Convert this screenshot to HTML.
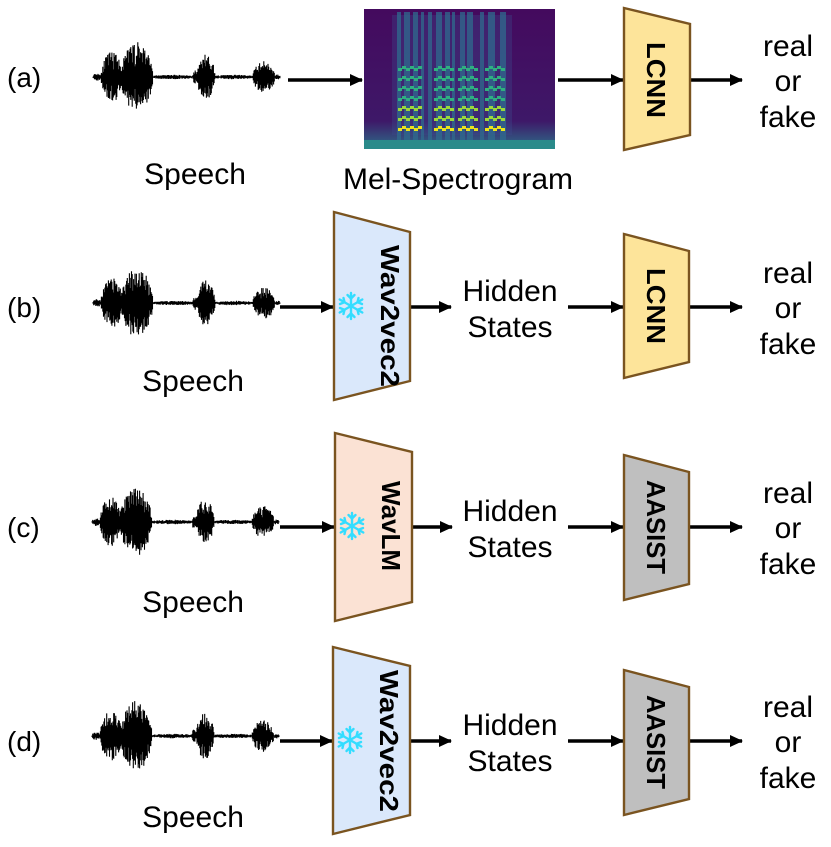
<!DOCTYPE html>
<html><head><meta charset="utf-8">
<style>
html,body{margin:0;padding:0;background:#fff;}
svg{display:block;}
text{font-family:"Liberation Sans",sans-serif;fill:#000;}
</style></head>
<body>
<svg id="s" width="831" height="847" viewBox="0 0 831 847" xmlns="http://www.w3.org/2000/svg">
<defs>
<marker id="ah" markerWidth="13" markerHeight="12" refX="12" refY="6" orient="auto" markerUnits="userSpaceOnUse">
<path d="M0,0 L13,6 L0,12 z" fill="#000"/>
</marker>
<linearGradient id="specbg" x1="0" y1="0" x2="0" y2="1">
<stop offset="0" stop-color="#440a5e"/><stop offset="0.8" stop-color="#3e1868"/><stop offset="1" stop-color="#2d6f8a"/>
</linearGradient>
<g id="flake" stroke="#33ddff" stroke-width="2.4" fill="none" stroke-linecap="round">
<line x1="0" y1="-13" x2="0" y2="13"/><line x1="-11.3" y1="-6.5" x2="11.3" y2="6.5"/><line x1="-11.3" y1="6.5" x2="11.3" y2="-6.5"/>
<path d="M-3.5,-11 L0,-7.5 L3.5,-11 M-3.5,11 L0,7.5 L3.5,11 M-11,-2 L-6.5,-3.8 L-7.5,-8 M11,2 L6.5,3.8 L7.5,8 M-11,2 L-6.5,3.8 L-7.5,8 M11,-2 L6.5,-3.8 L7.5,-8"/>
</g>
</defs>

<g id="waves"></g>

<g font-size="28">
<text x="7" y="87">(a)</text>
<text x="7" y="317">(b)</text>
<text x="7" y="537">(c)</text>
<text x="7" y="751">(d)</text>
</g>
<g font-size="30" text-anchor="middle">
<text x="195" y="184">Speech</text>
<text x="458" y="189">Mel-Spectrogram</text>
<text x="193" y="391">Speech</text>
<text x="193" y="612">Speech</text>
<text x="193" y="827">Speech</text>
<text x="510" y="301">Hidden</text><text x="510" y="337">States</text>
<text x="510" y="521">Hidden</text><text x="510" y="557">States</text>
<text x="510" y="735">Hidden</text><text x="510" y="771">States</text>
<g id="rf"></g>
</g>

<rect x="364" y="9" width="191" height="140" fill="url(#specbg)"/>
<g id="spec"></g>

<g stroke="#000" stroke-width="3.5" marker-end="url(#ah)">
<line x1="288" y1="80" x2="362" y2="80"/>
<line x1="558" y1="80" x2="623" y2="80"/>
<line x1="690" y1="80" x2="742" y2="80"/>
<line x1="280" y1="307" x2="333" y2="307"/>
<line x1="411" y1="307" x2="451" y2="307"/>
<line x1="568" y1="307" x2="623" y2="307"/>
<line x1="690" y1="307" x2="742" y2="307"/>
<line x1="280" y1="527" x2="334" y2="527"/>
<line x1="412" y1="527" x2="452" y2="527"/>
<line x1="568" y1="527" x2="623" y2="527"/>
<line x1="690" y1="527" x2="742" y2="527"/>
<line x1="280" y1="741" x2="332" y2="741"/>
<line x1="411" y1="741" x2="451" y2="741"/>
<line x1="568" y1="741" x2="623" y2="741"/>
<line x1="690" y1="741" x2="742" y2="741"/>
</g>

<g stroke="#7a5420" stroke-width="2.4">
<polygon points="624,8 690,24 690,135 624,150" fill="#fde49a"/>
<polygon points="334,212 410,232 410,381 334,400" fill="#dae8fb"/>
<polygon points="624,234 689,251 689,362 624,378" fill="#fde49a"/>
<polygon points="335,433 412,452 412,602 335,621" fill="#fbe2d4"/>
<polygon points="624,455 689,472 689,584 624,600" fill="#bfbfbf"/>
<polygon points="333,647 410,666 410,815 333,834" fill="#dae8fb"/>
<polygon points="624,670 689,687 689,799 624,815" fill="#bfbfbf"/>
</g>
<g font-size="26" font-weight="bold" text-anchor="middle">
<text transform="translate(647,80) rotate(90)" textLength="76" lengthAdjust="spacingAndGlyphs">LCNN</text>
<text transform="translate(381,316) rotate(90)" textLength="142" lengthAdjust="spacingAndGlyphs">Wav2vec2</text>
<text transform="translate(647,306) rotate(90)" textLength="76" lengthAdjust="spacingAndGlyphs">LCNN</text>
<text transform="translate(382,526) rotate(90)" textLength="90" lengthAdjust="spacingAndGlyphs">WavLM</text>
<text transform="translate(647,527) rotate(90)" textLength="94" lengthAdjust="spacingAndGlyphs">AASIST</text>
<text transform="translate(380,741) rotate(90)" textLength="142" lengthAdjust="spacingAndGlyphs">Wav2vec2</text>
<text transform="translate(647,742) rotate(90)" textLength="94" lengthAdjust="spacingAndGlyphs">AASIST</text>
</g>
<use href="#flake" x="351" y="306"/>
<use href="#flake" x="352" y="526"/>
<use href="#flake" x="350" y="740"/>
</svg>
<script>
var NS="http://www.w3.org/2000/svg";
var seed=11;function rnd(){seed=(seed*16807)%2147483647;return seed/2147483647;}
function wave(x0,cy){
  var g=document.getElementById('waves');var d="";
  var segs=[[0,8,3],[8,30,24],[28,60,34],[60,100,1.2],[100,104,6],[104,122,22],[122,160,1.2],[160,182,15],[182,187,1.5]];
  for(var x=0;x<187;x+=0.7){
    var a=1;for(var i=0;i<segs.length;i++){if(x>=segs[i][0]&&x<segs[i][1]){var s=segs[i];var t=(x-s[0])/(s[1]-s[0]);a=Math.max(a,s[2]*Math.pow(Math.sin(Math.PI*t),0.5)+1);}}
    var h=a*(0.3+0.7*Math.pow(rnd(),0.7));var h2=a*(0.3+0.7*Math.pow(rnd(),0.7));
    d+="M"+(x0+x).toFixed(1)+","+(cy-h).toFixed(1)+"V"+(cy+h2).toFixed(1);
  }
  var p=document.createElementNS(NS,'path');p.setAttribute('d',d);p.setAttribute('stroke','#000');p.setAttribute('stroke-width','1.1');g.appendChild(p);
}
wave(93,77);wave(93,303);wave(92,522);wave(92,736);
var sp=document.getElementById('spec');
function R(x,y,w,h,f,o){var r=document.createElementNS(NS,'rect');r.setAttribute('x',x);r.setAttribute('y',y);r.setAttribute('width',w);r.setAttribute('height',h);r.setAttribute('fill',f);if(o)r.setAttribute('opacity',o);sp.appendChild(r);}
R(392,15,120,120,'#3b4a8c','0.35');
[[397,4],[404,6],[413,5],[421,3],[428,4],[436,6],[445,5],[452,3],[460,5],[467,6],[480,4],[488,7],[500,6]].forEach(function(c){R(c[0],12,c[1],132,'#2f6b8e','0.75');});
[[398,24],[434,20],[458,18],[485,20]].forEach(function(c){
  for(var k=0;k<7;k++){var col=k<1?'#e8e41c':(k<3?'#9bd83a':'#2fb07f');
    for(var j=0;j<c[1];j+=4){R(c[0]+j,128-k*10-(j%8)/2,4,3,col);}}
});
R(364,140,191,9,'#2a8a8a');
var rf=document.getElementById('rf');
[80,307,527,741].forEach(function(y){
  [["real",y-24],["or",y+11],["fake",y+47]].forEach(function(w){
    var t=document.createElementNS(NS,'text');t.setAttribute('x',788);t.setAttribute('y',w[1]);t.textContent=w[0];rf.appendChild(t);
  });
});
</script>
</body></html>
